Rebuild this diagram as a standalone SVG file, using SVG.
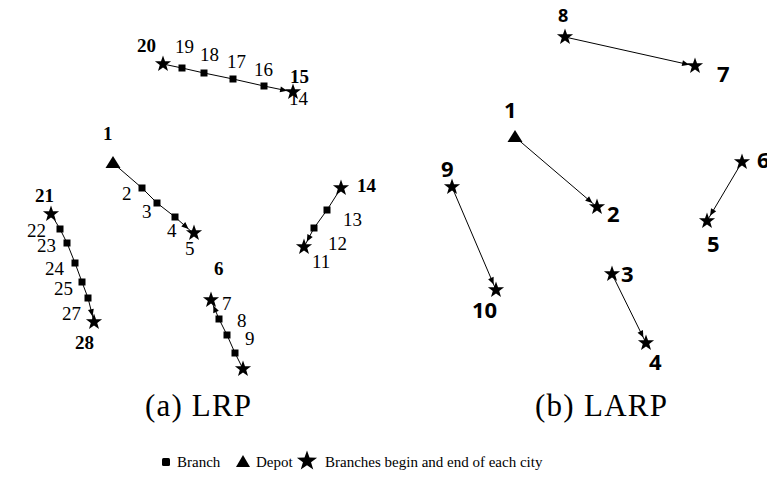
<svg xmlns="http://www.w3.org/2000/svg" xmlns:xlink="http://www.w3.org/1999/xlink" width="767" height="482" viewBox="0 0 767 482">
  <style>
    .link { fill: none; stroke: #000; stroke-width: 1; }
    .lbl { font-family: "Liberation Serif", "Times New Roman", serif; font-size: 19px; fill: #000; }
    .lbl-b { font-family: "Liberation Serif", "Times New Roman", serif; font-size: 19px; font-weight: bold; fill: #000; }
    .lbl-r { font-family: "Open Sans", "Liberation Sans", sans-serif; font-size: 22px; font-weight: bold; fill: #000; }
    .cap { font-family: "Liberation Serif", "Times New Roman", serif; font-size: 31px; fill: #000; }
    .leg { font-family: "Liberation Serif", "Times New Roman", serif; font-size: 15px; fill: #000; }
  </style>
  <defs>
    <!-- five-pointed star, centred on the origin -->
    <path id="star" d="M0,-8.5 L2,-2.75 L8.08,-2.63 L3.23,1.05 L5,6.88 L0,3.4 L-5,6.88 L-3.23,1.05 L-8.08,-2.63 L-2,-2.75 Z" fill="#000"/>
    <rect id="sq" x="-3.5" y="-3.5" width="7" height="7" fill="#000"/>
    <path id="tri" d="M0,-7 L7.5,5 L-7.5,5 Z" fill="#000"/>
    <marker id="arr" markerUnits="userSpaceOnUse" markerWidth="8" markerHeight="6" refX="13" refY="3" orient="auto" overflow="visible">
      <path d="M0,0 L7,3 L0,6 Z" fill="#000"/>
    </marker>
  </defs>

  <rect width="767" height="482" fill="#fff"/>

  <!-- routes -->
  <g id="connectors">
    <polyline class="link" points="163,64 182,68 204,73 233,79 264,86 293,92" marker-end="url(#arr)"/>
    <polyline class="link" points="113,163 142,188 157,203 175,217 193,233" marker-end="url(#arr)"/>
    <polyline class="link" points="51,214 60,229 67,243 75,263 82,282 88,298 94,322" marker-end="url(#arr)"/>
    <polyline class="link" points="341,188 327,210 314,228 304,247" marker-end="url(#arr)"/>
    <polyline class="link" points="243,369 235,353 227,335 219,319 211,300" marker-end="url(#arr)"/>

    <line class="link" x1="565" y1="37" x2="695" y2="66" marker-end="url(#arr)"/>
    <line class="link" x1="515" y1="137" x2="597" y2="207" marker-end="url(#arr)"/>
    <line class="link" x1="452" y1="187" x2="496" y2="290" marker-end="url(#arr)"/>
    <line class="link" x1="742" y1="162" x2="707" y2="221" marker-end="url(#arr)"/>
    <line class="link" x1="612" y1="274" x2="646" y2="343" marker-end="url(#arr)"/>
  </g>

  <!-- (a) LRP -->
  <g id="a-20"><use xlink:href="#star" x="163" y="64"/><text class="lbl-b" x="137" y="52">20</text></g>
  <g id="a-19"><use xlink:href="#sq" x="182" y="68"/><text class="lbl" x="175" y="53">19</text></g>
  <g id="a-18"><use xlink:href="#sq" x="204" y="73"/><text class="lbl" x="200" y="61">18</text></g>
  <g id="a-17"><use xlink:href="#sq" x="233" y="79"/><text class="lbl" x="227" y="68">17</text></g>
  <g id="a-16"><use xlink:href="#sq" x="264" y="86"/><text class="lbl" x="254" y="76">16</text></g>
  <g id="a-15"><use xlink:href="#star" x="293" y="92"/><text class="lbl-b" x="290" y="83">15</text><text class="lbl" x="289" y="105">14</text></g>

  <g id="a-1"><use xlink:href="#tri" x="113" y="163"/><text class="lbl-b" x="103" y="140">1</text></g>
  <g id="a-2"><use xlink:href="#sq" x="142" y="188"/><text class="lbl" x="122" y="200">2</text></g>
  <g id="a-3"><use xlink:href="#sq" x="157" y="203"/><text class="lbl" x="142" y="218">3</text></g>
  <g id="a-4"><use xlink:href="#sq" x="175" y="217"/><text class="lbl" x="167" y="237">4</text></g>
  <g id="a-5"><use xlink:href="#star" x="194" y="233"/><text class="lbl" x="185" y="255">5</text></g>

  <g id="a-21"><use xlink:href="#star" x="51" y="214"/><text class="lbl-b" x="35" y="202">21</text></g>
  <g id="a-22"><use xlink:href="#sq" x="60" y="229"/><text class="lbl" x="27" y="237">22</text></g>
  <g id="a-23"><use xlink:href="#sq" x="67" y="243"/><text class="lbl" x="37" y="252">23</text></g>
  <g id="a-24"><use xlink:href="#sq" x="75" y="263"/><text class="lbl" x="45" y="275">24</text></g>
  <g id="a-25"><use xlink:href="#sq" x="82" y="282"/><text class="lbl" x="54" y="295">25</text></g>
  <g id="a-26"><use xlink:href="#sq" x="88" y="298"/></g>
  <g id="a-27"><text class="lbl" x="62" y="320">27</text></g>
  <g id="a-28"><use xlink:href="#star" x="94" y="322"/><text class="lbl-b" x="75" y="349">28</text></g>

  <g id="a-14"><use xlink:href="#star" x="341" y="188"/><text class="lbl-b" x="357" y="192">14</text></g>
  <g id="a-13"><use xlink:href="#sq" x="327" y="210"/><text class="lbl" x="343" y="226">13</text></g>
  <g id="a-12"><use xlink:href="#sq" x="314" y="228"/><text class="lbl" x="328" y="250">12</text></g>
  <g id="a-11"><use xlink:href="#star" x="304" y="247"/><text class="lbl" x="312" y="268">11</text></g>

  <g id="a-6"><use xlink:href="#star" x="211" y="300"/><text class="lbl-b" x="214" y="275">6</text></g>
  <g id="a-7"><use xlink:href="#sq" x="219" y="319"/><text class="lbl" x="222" y="310">7</text></g>
  <g id="a-8"><use xlink:href="#sq" x="227" y="335"/><text class="lbl" x="237" y="327">8</text></g>
  <g id="a-9"><use xlink:href="#sq" x="235" y="353"/><text class="lbl" x="245" y="345">9</text></g>
  <g id="a-10"><use xlink:href="#star" x="243" y="369"/></g>

  <!-- (b) LARP -->
  <g id="b-8"><use xlink:href="#star" x="565" y="37"/><text class="lbl-r" x="558" y="22" style="font-size:18px">8</text></g>
  <g id="b-7"><use xlink:href="#star" x="695" y="66"/><text class="lbl-r" x="717" y="82">7</text></g>
  <g id="b-1"><use xlink:href="#tri" x="515" y="137"/><text class="lbl-r" x="504" y="118">1</text></g>
  <g id="b-6"><use xlink:href="#star" x="742" y="162"/><text class="lbl-r" x="757" y="168">6</text></g>
  <g id="b-9"><use xlink:href="#star" x="452" y="187"/><text class="lbl-r" x="441" y="177">9</text></g>
  <g id="b-2"><use xlink:href="#star" x="597" y="207"/><text class="lbl-r" x="607" y="222">2</text></g>
  <g id="b-5"><use xlink:href="#star" x="707" y="221"/><text class="lbl-r" x="707" y="252">5</text></g>
  <g id="b-10"><use xlink:href="#star" x="496" y="290"/><text class="lbl-r" x="472" y="318">10</text></g>
  <g id="b-3"><use xlink:href="#star" x="612" y="274"/><text class="lbl-r" x="621" y="282">3</text></g>
  <g id="b-4"><use xlink:href="#star" x="646" y="343"/><text class="lbl-r" x="649" y="370">4</text></g>

  <!-- captions -->
  <text class="cap" x="145" y="416" textLength="106" lengthAdjust="spacing">(a) LRP</text>
  <text class="cap" x="535" y="416" textLength="132" lengthAdjust="spacing">(b) LARP</text>

  <!-- legend -->
  <g id="legend">
    <rect x="162" y="458" width="8" height="8" rx="1.5" fill="#000"/>
    <text class="leg" x="177" y="467">Branch</text>
    <path d="M236,467 L243,455 L250,467 Z" fill="#000"/>
    <text class="leg" x="256" y="467">Depot</text>
    <use xlink:href="#star" transform="translate(307,461) scale(1.25)"/>
    <text class="leg" x="325" y="467">Branches begin and end of each city</text>
  </g>
</svg>
